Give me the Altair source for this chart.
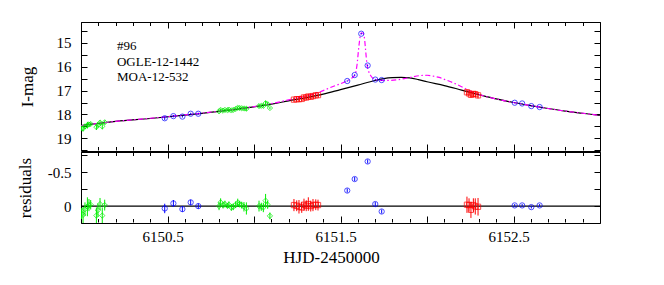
import altair as alt
import pandas as pd

# ---------------- data ----------------
# single-lens model (black solid)
MODEL_T = [6150.0, 6150.2, 6150.4, 6150.6, 6150.8, 6151.0, 6151.1, 6151.2, 6151.3, 6151.4,
           6151.5, 6151.6, 6151.7, 6151.75, 6151.8, 6151.85, 6151.9, 6151.95, 6152.0, 6152.1,
           6152.2, 6152.3, 6152.4, 6152.5, 6152.6, 6152.7, 6152.8, 6152.9, 6153.0]
MODEL_MAG = [18.47, 18.29, 18.17, 18.03, 17.87, 17.68, 17.57, 17.43, 17.30, 17.15,
             16.96, 16.77, 16.58, 16.50, 16.46, 16.45, 16.47, 16.54, 16.63, 16.79,
             16.98, 17.17, 17.35, 17.50, 17.63, 17.75, 17.86, 17.95, 18.04]

# planetary model (magenta dash-dot)
PLANET_T = [6150.0, 6150.2, 6150.4, 6150.6, 6150.8, 6151.0, 6151.1, 6151.2, 6151.3, 6151.376,
            6151.453, 6151.53, 6151.56, 6151.584, 6151.595, 6151.607, 6151.615, 6151.622, 6151.630,
            6151.638, 6151.645, 6151.653, 6151.663, 6151.676, 6151.695, 6151.73, 6151.79, 6151.87,
            6151.91, 6151.965, 6152.0, 6152.04, 6152.07, 6152.1, 6152.15, 6152.2, 6152.25, 6152.3,
            6152.35, 6152.4, 6152.5, 6152.6, 6152.7, 6152.8, 6152.9, 6153.0]
PLANET_MAG = [18.47, 18.29, 18.16, 18.02, 17.86, 17.67, 17.55, 17.39, 17.23, 17.07,
              16.84, 16.62, 16.50, 16.34, 15.95, 15.10, 14.68, 14.58, 14.60,
              14.78, 15.30, 15.90, 16.20, 16.39, 16.52, 16.57, 16.57, 16.50,
              16.44, 16.37, 16.36, 16.40, 16.45, 16.53, 16.67, 16.84, 17.02, 17.16,
              17.27, 17.35, 17.50, 17.63, 17.75, 17.86, 17.95, 18.04]

GREEN_T = [6150.003, 6150.012, 6150.023, 6150.037, 6150.046, 6150.056, 6150.089, 6150.098, 6150.110,
           6150.123, 6150.137,
           6150.798, 6150.807, 6150.821, 6150.832, 6150.846, 6150.855, 6150.869, 6150.880, 6150.894,
           6150.906, 6150.917, 6150.929, 6150.942, 6150.956,
           6151.029, 6151.042, 6151.054, 6151.067, 6151.079, 6151.092]
GREEN_MAG = [18.58, 18.59, 18.50, 18.45, 18.42, 18.40, 18.53, 18.44, 18.34, 18.50, 18.33,
             17.87, 17.81, 17.84, 17.81, 17.82, 17.80, 17.83, 17.81, 17.77, 17.72, 17.73, 17.74,
             17.75, 17.76,
             17.65, 17.64, 17.64, 17.53, 17.57, 17.73]
GREEN_RES = [0.11, 0.13, 0.045, 0.01, -0.015, -0.02, 0.14, 0.06, -0.03, 0.14, -0.015,
             0.0, -0.055, -0.015, -0.03, -0.005, -0.02, 0.02, 0.01, -0.02, -0.05, -0.03, -0.015,
             0.01, 0.035,
             0.0, 0.01, 0.02, -0.08, -0.02, 0.145]
GREEN_ERR = [0.08, 0.12, 0.10, 0.14, 0.09, 0.07, 0.12, 0.10, 0.09, 0.12, 0.08,
             0.06, 0.06, 0.05, 0.05, 0.04, 0.05, 0.05, 0.05, 0.05, 0.06, 0.05, 0.05, 0.07, 0.09,
             0.08, 0.06, 0.07, 0.10, 0.06, 0.05]

BLUE_T = [6150.484, 6150.534, 6150.586, 6150.634, 6150.678, 6151.539, 6151.582, 6151.620,
          6151.657, 6151.701, 6151.738, 6152.507, 6152.550, 6152.603, 6152.651]
BLUE_MAG = [18.16, 18.07, 18.09, 17.97, 17.97, 16.60, 16.35, 14.62, 15.95, 16.54, 16.56,
            17.51, 17.54, 17.65, 17.69]
BLUE_RES = [0.035, -0.04, 0.045, -0.055, 0.0, -0.23, -0.40, -2.11, -0.66, -0.03, 0.08,
            -0.01, -0.01, 0.015, -0.01]
BLUE_ERR = [0.07, 0.05, 0.04, 0.04, 0.04, 0.03, 0.03, 0.03, 0.03, 0.03, 0.03,
            0.02, 0.02, 0.02, 0.02]

RED_T = [6151.231, 6151.247, 6151.260, 6151.276, 6151.289, 6151.302, 6151.314, 6151.328,
         6151.341, 6151.357, 6151.370, 6152.231, 6152.243, 6152.254, 6152.268, 6152.279, 6152.295]
RED_MAG = [17.38, 17.36, 17.36, 17.35, 17.29, 17.29, 17.25, 17.26, 17.23, 17.20, 17.19,
           17.07, 17.12, 17.18, 17.14, 17.15, 17.20]
RED_RES = [-0.015, -0.005, 0.01, 0.02, -0.02, -0.005, -0.03, 0.0, -0.015, -0.02, -0.015,
           -0.02, -0.015, 0.055, -0.015, 0.005, 0.01]
RED_ERR = [0.09, 0.08, 0.10, 0.08, 0.09, 0.08, 0.10, 0.08, 0.09, 0.08, 0.08,
           0.12, 0.10, 0.12, 0.10, 0.12, 0.13]

SETS = ["green", "blue", "red"]
SET_COLORS = ["#00ee00", "#0000ff", "#ff0000"]
SET_SHAPES = ["diamond", "circle", "square"]

ANNOT_TEXT = ["#96", "OGLE-12-1442", "MOA-12-532"]
ANNOT_T = [6150.208, 6150.208, 6150.208]
ANNOT_MAG = [15.12, 15.80, 16.42]

# axes / ticks
X_DOMAIN = [6150.0, 6153.0]
X_MAJOR = [6150.0, 6150.5, 6151.0, 6151.5, 6152.0, 6152.5, 6153.0]
X_MINOR = [round(6150.0 + 0.1 * i, 1) for i in range(31)]
X_LABEL_VALUES = [6150.5, 6151.5, 6152.5]
X_LABELS = ["6150.5", "6151.5", "6152.5"]

Y1_DOMAIN = [14.13, 19.53]
Y1_TICKS = [14.5, 15, 15.5, 16, 16.5, 17, 17.5, 18, 18.5, 19, 19.5]
Y1_LABEL_VALUES = [15, 16, 17, 18, 19]
Y1_LABELS = ["15", "16", "17", "18", "19"]

Y2_DOMAIN = [-0.8, 0.25]
Y2_TICKS = [-0.75, -0.5, -0.25, 0, 0.25]
Y2_LABEL_VALUES = [-0.5, 0]
Y2_LABELS = ["-0.5", "0"]
ZERO = [0.0]

FONT = "Liberation Serif"

# ---------------- tables ----------------
model_df = pd.DataFrame({"t": MODEL_T, "mag": MODEL_MAG})
planet_df = pd.DataFrame({"t": PLANET_T, "mag": PLANET_MAG})

frames = []
for name, t, m, r, e in [("green", GREEN_T, GREEN_MAG, GREEN_RES, GREEN_ERR),
                         ("blue", BLUE_T, BLUE_MAG, BLUE_RES, BLUE_ERR),
                         ("red", RED_T, RED_MAG, RED_RES, RED_ERR)]:
    frames.append(pd.DataFrame({"set": name, "t": t, "mag": m, "res": r, "err": e}))
pts = pd.concat(frames, ignore_index=True)
pts["lo"] = pts["mag"] - pts["err"]
pts["hi"] = pts["mag"] + pts["err"]
pts["rlo"] = pts["res"] - pts["err"]
pts["rhi"] = pts["res"] + pts["err"]

annot_df = pd.DataFrame({"t": ANNOT_T, "mag": ANNOT_MAG, "txt": ANNOT_TEXT})
zero_df = pd.DataFrame({"r": ZERO})


def label_expr(values, labels):
    expr = "''"
    for v, l in reversed(list(zip(values, labels))):
        expr = f"datum.value == {v} ? '{l}' : ({expr})"
    return expr


STYLE = dict(domain=False, grid=False, tickColor="black", tickWidth=1,
             labelFont=FONT, titleFont=FONT, labelFontSize=15, titleFontSize=17,
             labelColor="black", titleColor="black", titleFontWeight="normal")


def tick_axis(orient, values, size):
    """inward ticks only (no labels)"""
    off = -(size + 1) if orient == "bottom" else -size
    return alt.Axis(orient=orient, values=values, tickSize=size, offset=off,
                    labels=False, title=None, **STYLE)


def label_axis(orient, values, labels, title, **kw):
    """labels (and title) only, no ticks"""
    return alt.Axis(orient=orient, values=values, ticks=False, labels=True,
                    labelExpr=label_expr(values, labels), labelOverlap=False,
                    title=title, **STYLE, **kw)


xs = alt.Scale(domain=X_DOMAIN, nice=False, zero=False)
ys1 = alt.Scale(domain=Y1_DOMAIN, reverse=True, nice=False, zero=False)
ys2 = alt.Scale(domain=Y2_DOMAIN, reverse=True, nice=False, zero=False)

color = alt.Color("set:N", scale=alt.Scale(domain=SETS, range=SET_COLORS), legend=None)
shape = alt.Shape("set:N", scale=alt.Scale(domain=SETS, range=SET_SHAPES), legend=None)

W = 519
H1 = 129
H2 = 71

# ---------------- top panel ----------------
t_model = alt.Chart(model_df).mark_line(color="black", strokeWidth=1.2, interpolate="monotone", clip=True).encode(
    x=alt.X("t:Q", scale=xs, axis=tick_axis("bottom", X_MAJOR, 6)),
    y=alt.Y("mag:Q", scale=ys1, axis=tick_axis("left", Y1_TICKS, 6)),
)
t_planet = alt.Chart(planet_df).mark_line(color="#ff00ff", strokeWidth=1.2, strokeDash=[5, 2.5, 1.5, 2.5],
                                          interpolate="monotone", clip=True).encode(
    x=alt.X("t:Q", scale=xs, axis=tick_axis("bottom", X_MINOR, 3.5)),
    y=alt.Y("mag:Q", scale=ys1, axis=tick_axis("right", Y1_TICKS, 6)),
)
t_err = alt.Chart(pts).mark_rule(strokeWidth=1, clip=True).encode(
    x=alt.X("t:Q", scale=xs, axis=tick_axis("top", X_MAJOR, 6)),
    y=alt.Y("lo:Q", scale=ys1, axis=label_axis("left", Y1_LABEL_VALUES, Y1_LABELS, "I-mag",
                                               labelPadding=10, titlePadding=20)),
    y2="hi:Q",
    color=color,
)
t_pts = alt.Chart(pts).mark_point(filled=False, size=28, strokeWidth=1, clip=True).encode(
    x=alt.X("t:Q", scale=xs, axis=tick_axis("top", X_MINOR, 3.5)),
    y=alt.Y("mag:Q", scale=ys1, axis=None),
    color=color,
    shape=shape,
)
t_text = alt.Chart(annot_df).mark_text(align="left", baseline="middle", font=FONT, fontSize=13,
                                       color="black").encode(
    x=alt.X("t:Q", scale=xs, axis=None),
    y=alt.Y("mag:Q", scale=ys1, axis=None),
    text="txt:N",
)
top = alt.layer(t_model, t_planet, t_err, t_pts, t_text).resolve_axis(
    x="independent", y="independent").properties(width=W, height=H1)

# ---------------- bottom panel ----------------
b_zero = alt.Chart(zero_df).mark_rule(color="black", strokeWidth=1.2).encode(
    x=alt.value(0), x2=alt.value(W),
    y=alt.Y("r:Q", scale=ys2, axis=tick_axis("left", Y2_TICKS, 6)),
)
b_zero_axis = alt.Chart(pts).mark_point(opacity=0, clip=True).encode(
    x=alt.X("t:Q", scale=xs, axis=label_axis("bottom", X_LABEL_VALUES, X_LABELS, "HJD-2450000",
                                             labelPadding=6, labelOffset=-5, labelFlush=False,
                                             titlePadding=5, titleX=250)),
    y=alt.Y("res:Q", scale=ys2, axis=label_axis("left", Y2_LABEL_VALUES, Y2_LABELS, "residuals",
                                                labelPadding=10, titlePadding=13)),
)
b_err = alt.Chart(pts).mark_rule(strokeWidth=1, clip=True).encode(
    x=alt.X("t:Q", scale=xs, axis=tick_axis("bottom", X_MAJOR, 6)),
    y=alt.Y("rlo:Q", scale=ys2, axis=tick_axis("right", Y2_TICKS, 6)),
    y2="rhi:Q",
    color=color,
)
b_pts = alt.Chart(pts).mark_point(filled=False, size=28, strokeWidth=1, clip=True).encode(
    x=alt.X("t:Q", scale=xs, axis=tick_axis("bottom", X_MINOR, 3.5)),
    y=alt.Y("res:Q", scale=ys2, axis=None),
    color=color,
    shape=shape,
)
b_top_major = alt.Chart(pts).mark_point(opacity=0, clip=True).encode(
    x=alt.X("t:Q", scale=xs, axis=tick_axis("top", X_MAJOR, 6)),
    y=alt.Y("res:Q", scale=ys2, axis=None),
)
b_top_minor = alt.Chart(pts).mark_point(opacity=0, clip=True).encode(
    x=alt.X("t:Q", scale=xs, axis=tick_axis("top", X_MINOR, 3.5)),
    y=alt.Y("res:Q", scale=ys2, axis=None),
)
bottom = alt.layer(b_zero, b_zero_axis, b_err, b_pts, b_top_major, b_top_minor).resolve_axis(
    x="independent", y="independent").properties(width=W, height=H2)

chart = alt.vconcat(top, bottom, spacing=-2).properties(
    padding={"left": 7, "top": 13, "right": 5, "bottom": 5},
    background="white",
).configure_view(stroke="black", strokeWidth=1)

chart.save("out.html", embed_options={"renderer": "svg", "actions": False})
